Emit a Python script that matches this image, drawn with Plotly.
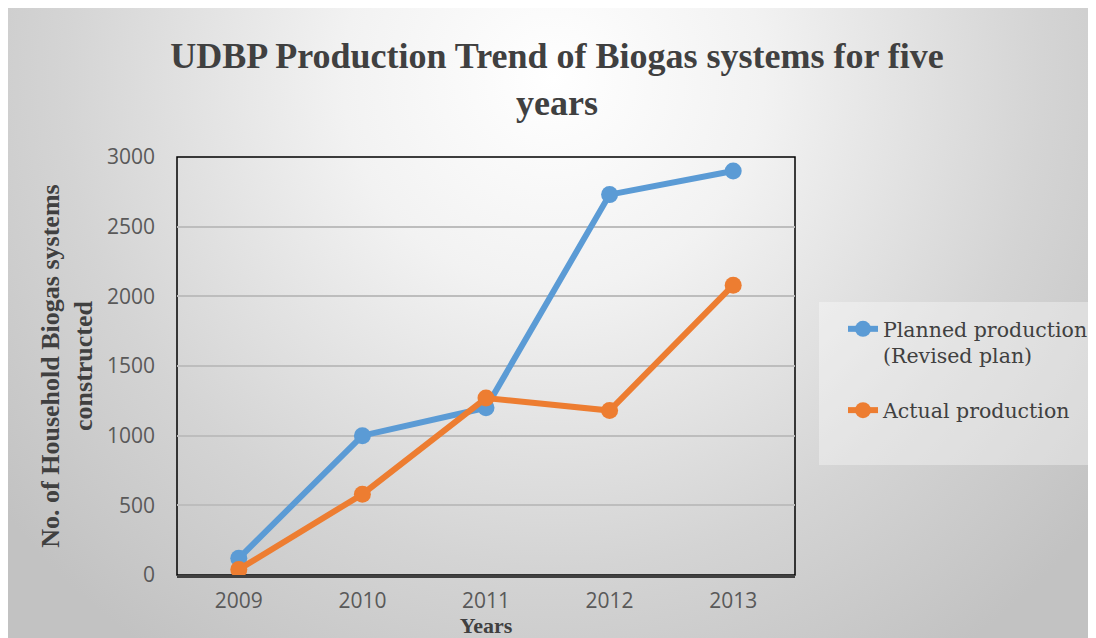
import base64
import plotly.graph_objects as go

years = ["2009", "2010", "2011", "2012", "2013"]
planned = [120, 1000, 1200, 2730, 2900]
actual = [40, 580, 1270, 1180, 2080]
y_ticks = [0, 500, 1000, 1500, 2000, 2500, 3000]

# figure is drawn at an 8px page offset, so it covers 1088x630
W, H = 1088, 630
L, R, T, B = 169, 787, 149, 567

svg = f'''<svg xmlns="http://www.w3.org/2000/svg" width="{W}" height="{H}" viewBox="0 0 {W} {H}" preserveAspectRatio="none">
<defs><radialGradient id="g" gradientUnits="userSpaceOnUse" cx="545" cy="70" r="700">
<stop offset="0" stop-color="#ffffff"/><stop offset="0.3" stop-color="#f2f2f2"/>
<stop offset="0.7" stop-color="#d4d4d4"/><stop offset="1" stop-color="#c2c2c2"/></radialGradient></defs>
<rect x="0" y="0" width="{W}" height="{H}" fill="url(#g)"/></svg>'''
src = "data:image/svg+xml;base64," + base64.b64encode(svg.encode()).decode()

pw, ph = R - L, B - T
def px(x):
    return (x - L) / pw
def py(y):
    return (B - y) / ph

fig = go.Figure()
fig.add_trace(go.Scatter(x=years, y=planned, mode="lines+markers",
                         name="Planned production<br>(Revised plan)", legendgroup="a",
                         line=dict(color="#5B9BD5", width=6),
                         marker=dict(size=17, color="#5B9BD5")))
fig.add_trace(go.Scatter(x=years, y=actual, mode="lines+markers",
                         name="Actual production", legendgroup="b",
                         line=dict(color="#ED7D31", width=6),
                         marker=dict(size=17, color="#ED7D31")))

fig.add_layout_image(dict(source=src, xref="paper", yref="paper",
                          x=px(0), y=py(0), sizex=W / pw, sizey=H / ph,
                          xanchor="left", yanchor="top", sizing="stretch", layer="below"))

fig.add_shape(type="rect", xref="paper", yref="paper", x0=px(811), x1=px(1086),
              y0=py(457), y1=py(294), fillcolor="rgba(255,255,255,0.35)",
              line=dict(width=0), layer="below")
fig.add_shape(type="rect", xref="paper", yref="paper", x0=0, x1=1, y0=0, y1=1,
              line=dict(color="#000000", width=1.5), layer="below")

fig.update_layout(
    width=W, height=H,
    margin=dict(l=L, r=W - R, t=T, b=H - B, autoexpand=False),
    paper_bgcolor="#ffffff", plot_bgcolor="rgba(0,0,0,0)",
    title=dict(text="<b>UDBP Production Trend of Biogas systems for five<br>years</b>",
               font=dict(family="Liberation Serif", size=36, color="#404040"),
               x=549 / W, xanchor="center", xref="container",
               y=1 - 60 / H, yanchor="middle", yref="container"),
    xaxis=dict(type="category", range=[-0.5, 4.5], showgrid=False, automargin=False,
               showline=True, linecolor="#404040", linewidth=3,
               ticks="", ticklabelstandoff=5,
               tickfont=dict(family="Open Sans", size=21, color="#595959"),
               title=dict(text="<b>Years</b>", standoff=3,
                          font=dict(family="Liberation Serif", size=22, color="#404040"))),
    yaxis=dict(range=[0, 3000], tickvals=y_ticks, showgrid=True, automargin=False,
               gridcolor="#bdbdbd", gridwidth=2, zeroline=False,
               showline=False, ticks="", ticklabelstandoff=21,
               tickfont=dict(family="Open Sans", size=21, color="#595959"),
               title=dict(text="<b>No. of Household Biogas systems<br>constructed</b>", standoff=6,
                          font=dict(family="Liberation Serif", size=26, color="#404040"))),
    legend=dict(x=835 / W, y=1 - 301 / H, xref="container", yref="container",
                xanchor="left", yanchor="top",
                bgcolor="rgba(0,0,0,0)", borderwidth=0, valign="top",
                font=dict(family="DejaVu Serif", size=20.5, color="#404040"),
                tracegroupgap=25, traceorder="grouped"),
)

fig.write_html("out.html")
